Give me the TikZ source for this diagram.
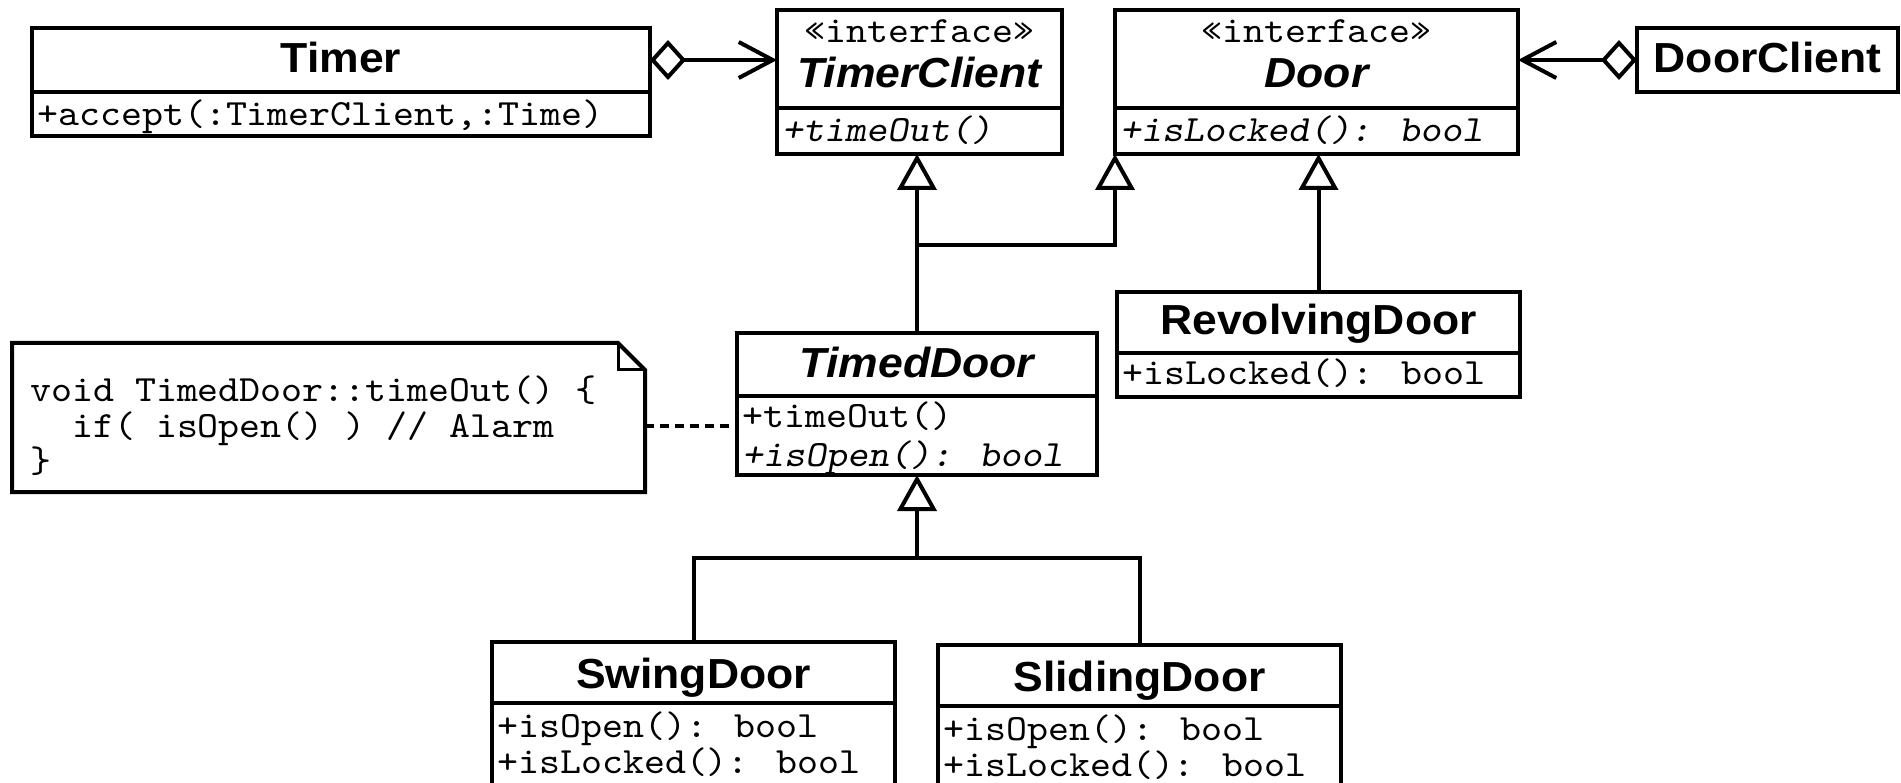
\documentclass[tikz,border=0pt]{standalone}
\usepackage{fontspec}
\newfontfamily\titlefont{Liberation Sans}[FakeStretch=1.06]
\newfontfamily\codefont{lmmono10-regular.otf}[FakeStretch=1.08]
\newfontfamily\codeslfont{lmmonoslant10-regular.otf}[FakeStretch=1.08]
\usetikzlibrary{arrows.meta,calc}

\tikzset{
  box/.style={draw, line width=4pt, inner sep=0pt, outer sep=0pt,
    anchor=north west, fill=white},
  ttl/.style={font=\titlefont\fontsize{42}{46}\selectfont\bfseries,
    anchor=base, inner sep=0pt},
  ttlit/.style={font=\titlefont\fontsize{42}{46}\selectfont\bfseries\itshape,
    anchor=base, inner sep=0pt},
  stereo/.style={font=\codefont\fontsize{37}{40}\selectfont,
    anchor=base, inner sep=0pt},
  member/.style={font=\codefont\fontsize{37}{40}\selectfont,
    anchor=base west, inner sep=0pt},
  membersl/.style={font=\codeslfont\fontsize{37}{40}\selectfont,
    anchor=base west, inner sep=0pt},
  conn/.style={line width=4pt, line join=miter},
  gen/.style={conn, -{Triangle[open, length=36pt, width=39pt]}},
  assoc/.style={conn, {Diamond[open, length=36pt, width=40pt]}-{Straight Barb[length=34pt, width=36pt]}},
  notelink/.style={line width=4pt, dash pattern=on 9pt off 6pt},
}

\begin{document}
\begin{tikzpicture}[x=1pt, y=-1pt]
\clip (0,0) rectangle (1901,783);
\fill[white] (0,0) rectangle (1901,783);

% ---- Timer
\node[box, minimum width=618pt, minimum height=64pt] (timerH) at (32,28) {};
\node[box, minimum width=618pt, minimum height=44pt] (timerB) at (32,92) {};
\node[ttl] (timerT) at (341,73) {Timer};
\node[member] (timerM) at (37,126) {+accept(:TimerClient,:Time)};

% ---- TimerClient (interface)
\node[box, minimum width=285pt, minimum height=98pt] (tcH) at (777,10) {};
\node[box, minimum width=285pt, minimum height=46pt] (tcB) at (777,108) {};
\node[stereo] (tcS) at (919.5,43) {«interface»};
\node[ttlit] (tcT) at (919.5,88) {TimerClient};
\node[membersl] (tcM) at (782,142) {+timeOut()};

% ---- Door (interface)
\node[box, minimum width=403pt, minimum height=98pt] (doorH) at (1115,10) {};
\node[box, minimum width=403pt, minimum height=46pt] (doorB) at (1115,108) {};
\node[stereo] (doorS) at (1316.5,43) {«interface»};
\node[ttlit] (doorT) at (1316.5,88) {Door};
\node[membersl] (doorM) at (1120,142) {+isLocked(): bool};

% ---- DoorClient
\node[box, minimum width=261pt, minimum height=64pt] (dcH) at (1637,28) {};
\node[ttl] (dcT) at (1767.5,73) {DoorClient};

% ---- RevolvingDoor
\node[box, minimum width=403pt, minimum height=61pt] (rdH) at (1117,292) {};
\node[box, minimum width=403pt, minimum height=44pt] (rdB) at (1117,353) {};
\node[ttl] (rdT) at (1318.5,335) {RevolvingDoor};
\node[member] (rdM) at (1122,385) {+isLocked(): bool};

% ---- TimedDoor
\node[box, minimum width=360pt, minimum height=63pt] (tdH) at (737,333) {};
\node[box, minimum width=360pt, minimum height=79pt] (tdB) at (737,396) {};
\node[ttlit] (tdT) at (917,378) {TimedDoor};
\node[member] (tdM1) at (742,428) {+timeOut()};
\node[membersl] (tdM2) at (742,466) {+isOpen(): bool};

% ---- SwingDoor
\node[box, minimum width=403pt, minimum height=61pt] (swH) at (492,642) {};
\node[box, minimum width=403pt, minimum height=100pt] (swB) at (492,703) {};
\node[ttl] (swT) at (693.5,688) {SwingDoor};
\node[member] (swM1) at (497,737) {+isOpen(): bool};
\node[member] (swM2) at (497,773) {+isLocked(): bool};

% ---- SlidingDoor
\node[box, minimum width=403pt, minimum height=61pt] (slH) at (938,645) {};
\node[box, minimum width=403pt, minimum height=100pt] (slB) at (938,706) {};
\node[ttl] (slT) at (1139.5,691) {SlidingDoor};
\node[member] (slM1) at (943,740) {+isOpen(): bool};
\node[member] (slM2) at (943,776) {+isLocked(): bool};

% ---- note with folded corner
\node[inner sep=0pt, outer sep=0pt, anchor=north west,
      minimum width=633pt, minimum height=149pt] (note) at (12,343) {};
\draw[line width=4pt, line join=miter]
  (note.south west) -- (note.north west) -- ([xshift=-27pt]note.north east)
  -- ([yshift=-27pt]note.north east) -- (note.south east) -- cycle;
\draw[line width=3pt, line join=miter]
  ([xshift=-27pt]note.north east) |- ([yshift=-27pt]note.north east);
\node[member] (noteL1) at (30,402) {void TimedDoor::timeOut() \{};
\node[member] (noteL2) at (30,437) {\ \ if( isOpen() ) // Alarm};
\node[member] (noteL3) at (30,472) {\}};

% ---- connectors
\draw[assoc] (timerH.east) -- (timerH.east -| tcH.west);
\draw[assoc] (dcH.west) -- (dcH.west -| doorH.east);

\coordinate (j1) at (917,245);
\coordinate (j2) at (917,558);
\draw[gen] (tdH.north) -- (tdH.north |- tcB.south);
\draw[gen] (j1) -| (doorB.south west);
\draw[gen] (rdH.north) -- (rdH.north |- doorB.south);

\draw[conn] (swH.north) |- (j2);
\draw[conn] (slH.north) |- (j2);
\draw[gen] (j2) -- (tdB.south);

\draw[notelink] (note.east |- tdM1.mid) -- (tdB.west |- tdM1.mid);
\end{tikzpicture}
\end{document}
